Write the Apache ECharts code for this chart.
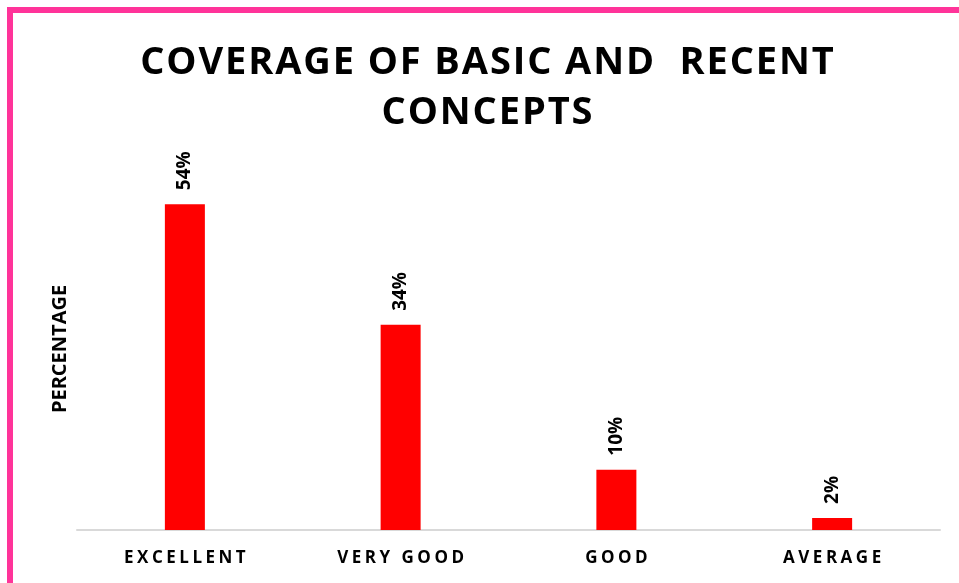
<!DOCTYPE html>
<html><head><meta charset="utf-8">
<script src="https://cdn.jsdelivr.net/npm/echarts@6/dist/echarts.min.js"></script>
<style>html,body{margin:0;padding:0;background:#fff}#c{width:959px;height:583px}</style>
</head><body><div id="c"></div>
<script>
const titleLines = ['COVERAGE OF BASIC AND  RECENT', 'CONCEPTS'];
const categories = ['EXCELLENT', 'VERY GOOD', 'GOOD', 'AVERAGE'];
const values = [54, 34, 10, 2];
const yAxisName = 'PERCENTAGE';

// letter-spaced rendering via rich text tokens (one token per character)
function spaced(str, key) {
  return str.split('\n').map(line =>
    line.split('').map(ch => '{' + key + '|' + ch + '}').join('')
  ).join('\n');
}

const chart = echarts.init(document.getElementById('c'));
chart.setOption({
  animation: false,
  backgroundColor: '#fff',
  title: {
    text: spaced(titleLines.join('\n'), 't'),
    left: 487,
    textAlign: 'center',
    top: 38,
    padding: 0,
    textStyle: {
      fontFamily: 'Open Sans', fontWeight: 'bold', fontSize: 38,
      color: '#000', lineHeight: 50,
      rich: {
        t: {
          fontFamily: 'Open Sans', fontWeight: 'bold', fontSize: 38,
          color: '#000', lineHeight: 50, padding: [0, 0.95, 0, 0.95]
        }
      }
    }
  },
  graphic: [
    { type: 'line', shape: { x1: 7, y1: 10, x2: 959, y2: 10 }, style: { stroke: '#FF3399', lineWidth: 6 } },
    { type: 'line', shape: { x1: 10, y1: 7, x2: 10, y2: 583 }, style: { stroke: '#FF3399', lineWidth: 6 } }
  ],
  grid: { left: 77, right: 19, top: 168, bottom: 53, containLabel: false },
  xAxis: {
    type: 'category',
    data: categories,
    axisLine: { lineStyle: { color: '#d9d9d9', width: 2 } },
    axisTick: { show: false },
    axisLabel: {
      interval: 0, hideOverlap: false,
      margin: 20, color: '#000', fontFamily: 'Open Sans', fontWeight: 'bold', fontSize: 17,
      formatter: v => spaced(v, 'x'),
      rich: {
        x: { fontFamily: 'Open Sans', fontWeight: 'bold', fontSize: 17, color: '#000', padding: [0, 1.75, 0, 1.75] }
      }
    }
  },
  yAxis: {
    type: 'value', min: 0, max: 60,
    show: true,
    axisLine: { show: false }, axisTick: { show: false }, axisLabel: { show: false },
    splitLine: { show: false },
    name: yAxisName, nameLocation: 'middle', nameGap: 7, nameRotate: 90,
    nameTextStyle: { color: '#000', fontFamily: 'Open Sans', fontWeight: 'bold', fontSize: 20 }
  },
  series: [{
    type: 'bar',
    data: values,
    barWidth: 40,
    itemStyle: { color: '#FF0000' },
    label: {
      show: true, position: 'top', rotate: 90, align: 'left', verticalAlign: 'middle',
      distance: 14,
      formatter: p => p.value + '%',
      color: '#000', fontFamily: 'Open Sans', fontWeight: 'bold', fontSize: 19
    }
  }]
});
</script></body></html>
